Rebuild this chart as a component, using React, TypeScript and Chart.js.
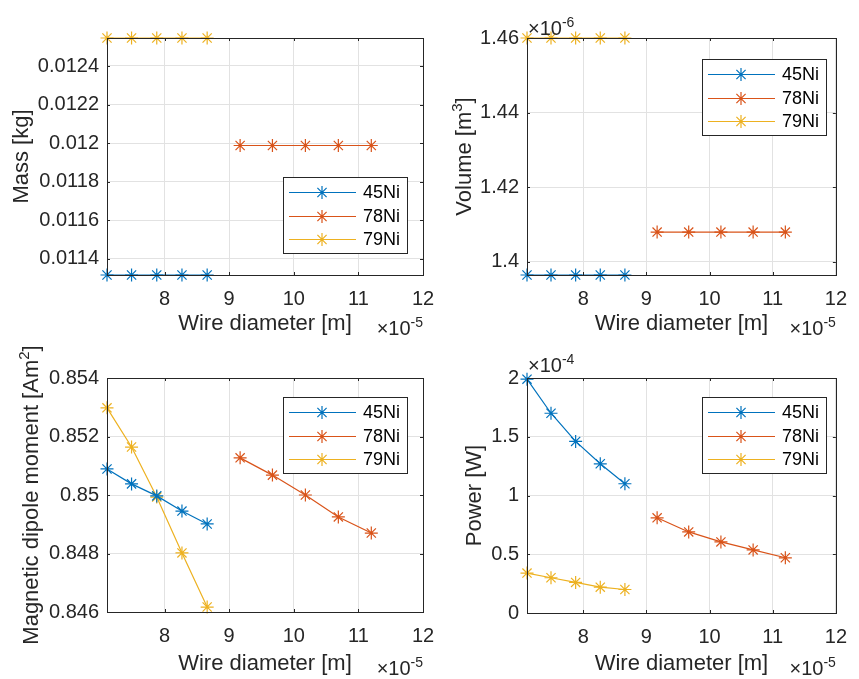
import { useEffect, useRef } from 'react';
import { Chart, registerables } from 'chart.js';

Chart.register(...registerables);

const FONT = "'Liberation Sans', Arial, Helvetica, sans-serif";
const AXIS_COLOR = '#262626';
const GRID_COLOR = '#e2e2e2';
const SERIES_COLORS = ['#0072BD', '#D95319', '#EDB120'];
const SERIES_NAMES = ['45Ni', '78Ni', '79Ni'];

// Wire diameter, in units of 1e-5 m
const diameter45Ni = [7.11, 7.49, 7.88, 8.27, 8.66];
const diameter78Ni = [9.17, 9.67, 10.18, 10.69, 11.2];
const diameter79Ni = [7.11, 7.49, 7.88, 8.27, 8.66];

// Mass [kg]
const mass45Ni = [0.011317, 0.011317, 0.011317, 0.011317, 0.011317];
const mass78Ni = [0.011988, 0.011988, 0.011988, 0.011988, 0.011988];
const mass79Ni = [0.012545, 0.012545, 0.012545, 0.012545, 0.012545];

// Volume, in units of 1e-6 m^3
const volume45Ni = [1.3965, 1.3965, 1.3965, 1.3965, 1.3965];
const volume78Ni = [1.408, 1.408, 1.408, 1.408, 1.408];
const volume79Ni = [1.46, 1.46, 1.46, 1.46, 1.46];

// Magnetic dipole moment [Am^2]
const moment45Ni = [0.85089, 0.85038, 0.84997, 0.84945, 0.84901];
const moment78Ni = [0.85127, 0.85068, 0.85, 0.84925, 0.8487];
const moment79Ni = [0.85298, 0.85164, 0.84993, 0.84802, 0.84617];

// Power, in units of 1e-4 W
const power45Ni = [1.99, 1.7, 1.46, 1.27, 1.1];
const power78Ni = [0.81, 0.69, 0.605, 0.537, 0.47];
const power79Ni = [0.34, 0.3, 0.26, 0.22, 0.2];

// Tick labels
const xTicks = [8, 9, 10, 11, 12];
const massTicks = [0.0114, 0.0116, 0.0118, 0.012, 0.0122, 0.0124];
const volumeTicks = [1.4, 1.42, 1.44, 1.46];
const momentTicks = [0.846, 0.848, 0.85, 0.852, 0.854];
const powerTicks = [0, 0.5, 1, 1.5, 2];

const X_MIN = 7.11;
const X_MAX = 12;

type Seg = { t: string; sup?: boolean };

interface PanelSpec {
  xs: number[][];
  ys: number[][];
  area: { left: number; right: number; top: number; bottom: number };
  yMin: number;
  yMax: number;
  yTicks: number[];
  yTitle: Seg[];
  yTitleBaseX: number;
  yExp?: string;
  yExpBase?: number;
  xExpBase: number;
  xTitleY: number;
  legend: { left: number; top: number };
}

const W = 859;
const H = 679;

function fmt(v: number): string {
  return String(parseFloat(v.toPrecision(10)));
}

function drawRich(
  ctx: CanvasRenderingContext2D,
  segs: Seg[],
  x: number,
  y: number,
  size: number,
  align: 'left' | 'right' | 'center',
  color: string
) {
  const supSize = Math.round(size * 0.7);
  ctx.fillStyle = color;
  ctx.textBaseline = 'alphabetic';
  ctx.textAlign = 'left';
  const widths = segs.map((s) => {
    ctx.font = `${s.sup ? supSize : size}px ${FONT}`;
    return ctx.measureText(s.t).width;
  });
  const total = widths.reduce((a, b) => a + b, 0);
  let cx = align === 'left' ? x : align === 'right' ? x - total : x - total / 2;
  segs.forEach((s, i) => {
    ctx.font = `${s.sup ? supSize : size}px ${FONT}`;
    ctx.fillText(s.t, cx, s.sup ? y - size * 0.42 : y);
    cx += widths[i];
  });
}

function drawStar(ctx: CanvasRenderingContext2D, x: number, y: number, r: number) {
  ctx.beginPath();
  ctx.moveTo(x - r, y);
  ctx.lineTo(x + r, y);
  ctx.moveTo(x, y - r);
  ctx.lineTo(x, y + r);
  const d = r * Math.SQRT1_2;
  ctx.moveTo(x - d, y - d);
  ctx.lineTo(x + d, y + d);
  ctx.moveTo(x - d, y + d);
  ctx.lineTo(x + d, y - d);
  ctx.stroke();
}

function makeDecor(spec: PanelSpec) {
  return {
    id: 'matlabDecor',
    afterDraw(chart: any) {
      const ctx: CanvasRenderingContext2D = chart.ctx;
      const { left, right, top, bottom } = chart.chartArea;
      ctx.save();
      // box
      ctx.strokeStyle = AXIS_COLOR;
      ctx.lineWidth = 1;
      ctx.strokeRect(Math.round(left) + 0.5, Math.round(top) + 0.5, Math.round(right - left), Math.round(bottom - top));
      // inward ticks
      const tl = 3;
      const xs = chart.scales.x;
      const ys = chart.scales.y;
      ctx.beginPath();
      xs.ticks.forEach((t: any) => {
        const px = Math.round(xs.getPixelForValue(t.value)) + 0.5;
        ctx.moveTo(px, bottom);
        ctx.lineTo(px, bottom - tl);
        ctx.moveTo(px, top);
        ctx.lineTo(px, top + tl);
      });
      ys.ticks.forEach((t: any) => {
        const py = Math.round(ys.getPixelForValue(t.value)) + 0.5;
        ctx.moveTo(left, py);
        ctx.lineTo(left + tl, py);
        ctx.moveTo(right, py);
        ctx.lineTo(right - tl, py);
      });
      ctx.stroke();

      // x exponent
      drawRich(ctx, [{ t: '\u00d710' }, { t: '-5', sup: true }], right, spec.xExpBase, 20, 'right', AXIS_COLOR);
      // y exponent
      if (spec.yExp) {
        drawRich(ctx, [{ t: '\u00d710' }, { t: spec.yExp, sup: true }], left + 1, spec.yExpBase as number, 20, 'left', AXIS_COLOR);
      }
      // y title
      ctx.save();
      ctx.translate(spec.yTitleBaseX, (top + bottom) / 2);
      ctx.rotate(-Math.PI / 2);
      drawRich(ctx, spec.yTitle, 0, 0, 22, 'center', AXIS_COLOR);
      ctx.restore();

      // legend
      const lx = spec.legend.left;
      const ly = spec.legend.top;
      const lw = 124;
      const lh = 76;
      ctx.fillStyle = '#ffffff';
      ctx.fillRect(lx, ly, lw, lh);
      ctx.strokeStyle = AXIS_COLOR;
      ctx.lineWidth = 1;
      ctx.strokeRect(lx + 0.5, ly + 0.5, lw, lh);
      const rowOffsets = [15, 39, 62];
      chart.data.datasets.forEach((ds: any, i: number) => {
        const ry = ly + rowOffsets[i] + 0.5;
        ctx.strokeStyle = ds.borderColor;
        ctx.lineWidth = 1.2;
        ctx.beginPath();
        ctx.moveTo(lx + 6, ry);
        ctx.lineTo(lx + 73, ry);
        ctx.stroke();
        drawStar(ctx, lx + 39, ry, 6.5);
        ctx.fillStyle = '#000000';
        ctx.font = `18px ${FONT}`;
        ctx.textAlign = 'left';
        ctx.textBaseline = 'middle';
        ctx.fillText(ds.label, lx + 80, ry + 1);
      });
      ctx.restore();
    },
  };
}

function Panel({ spec }: { spec: PanelSpec }) {
  const ref = useRef<HTMLCanvasElement | null>(null);
  useEffect(() => {
    const canvas = ref.current;
    if (!canvas) return;
    const { area } = spec;
    const yAxisWidth = 100;
    const xScaleBottom = spec.xTitleY + 11;
    const xAxisHeight = xScaleBottom - area.bottom;
    const datasets = spec.xs.map((xa, i) => ({
      label: SERIES_NAMES[i],
      data: xa.map((x, j) => ({ x, y: spec.ys[i][j] })),
      borderColor: SERIES_COLORS[i],
      backgroundColor: SERIES_COLORS[i],
      borderWidth: 1.2,
      pointStyle: 'star' as const,
      pointRadius: 6.5,
      pointBorderWidth: 1.2,
      pointBorderColor: SERIES_COLORS[i],
      pointBackgroundColor: SERIES_COLORS[i],
      tension: 0,
      clip: false as any,
    }));
    const chart = new Chart(canvas, {
      type: 'line',
      data: { datasets },
      options: {
        animation: false,
        responsive: false,
        devicePixelRatio: 1,
        events: [],
        layout: {
          padding: {
            left: area.left - yAxisWidth,
            right: W - area.right,
            top: area.top,
            bottom: H - xScaleBottom,
          },
        },
        plugins: {
          legend: { display: false },
          tooltip: { enabled: false },
        },
        scales: {
          x: {
            type: 'linear',
            min: X_MIN,
            max: X_MAX,
            afterBuildTicks: (s: any) => {
              s.ticks = xTicks.map((v) => ({ value: v }));
            },
            afterFit: (s: any) => {
              s.height = xAxisHeight;
            },
            grid: { color: GRID_COLOR, lineWidth: 1, drawTicks: false },
            border: { display: false },
            ticks: {
              color: AXIS_COLOR,
              font: { family: FONT, size: 20 },
              padding: 12,
              maxRotation: 0,
              autoSkip: false,
              callback: (v: any) => fmt(Number(v)),
            },
            title: {
              display: true,
              text: 'Wire diameter [m]',
              color: AXIS_COLOR,
              font: { family: FONT, size: 22, lineHeight: 1 },
              padding: { top: 0, bottom: 0 },
            },
          },
          y: {
            type: 'linear',
            min: spec.yMin,
            max: spec.yMax,
            afterBuildTicks: (s: any) => {
              s.ticks = spec.yTicks.map((v) => ({ value: v }));
            },
            afterFit: (s: any) => {
              s.width = yAxisWidth;
            },
            grid: { color: GRID_COLOR, lineWidth: 1, drawTicks: false },
            border: { display: false },
            ticks: {
              color: AXIS_COLOR,
              font: { family: FONT, size: 20 },
              padding: 8,
              autoSkip: false,
              callback: (v: any) => fmt(Number(v)),
            },
          },
        },
      },
      plugins: [makeDecor(spec)],
    });
    return () => chart.destroy();
  }, [spec]);
  return (
    <canvas
      ref={ref}
      width={W}
      height={H}
      style={{ position: 'absolute', left: 0, top: 0, width: W, height: H }}
    />
  );
}

const panels: PanelSpec[] = [
  {
    xs: [diameter45Ni, diameter78Ni, diameter79Ni],
    ys: [mass45Ni, mass78Ni, mass79Ni],
    area: { left: 107, right: 423, top: 38, bottom: 275 },
    yMin: 0.011317,
    yMax: 0.012545,
    yTicks: massTicks,
    yTitle: [{ t: 'Mass [kg]' }],
    yTitleBaseX: 28,
    xExpBase: 335,
    xTitleY: 324,
    legend: { left: 283, top: 177 },
  },
  {
    xs: [diameter45Ni, diameter78Ni, diameter79Ni],
    ys: [volume45Ni, volume78Ni, volume79Ni],
    area: { left: 527, right: 843, top: 38, bottom: 275 },
    yMin: 1.3965,
    yMax: 1.46,
    yTicks: volumeTicks,
    yTitle: [{ t: 'Volume [m' }, { t: '3', sup: true }, { t: ']' }],
    yTitleBaseX: 471,
    yExp: '-6',
    yExpBase: 35,
    xExpBase: 335,
    xTitleY: 324,
    legend: { left: 702, top: 59 },
  },
  {
    xs: [diameter45Ni, diameter78Ni, diameter79Ni],
    ys: [moment45Ni, moment78Ni, moment79Ni],
    area: { left: 107, right: 423, top: 378, bottom: 612 },
    yMin: 0.846,
    yMax: 0.854,
    yTicks: momentTicks,
    yTitle: [{ t: 'Magnetic dipole moment [Am' }, { t: '2', sup: true }, { t: ']' }],
    yTitleBaseX: 38,
    xExpBase: 675,
    xTitleY: 664,
    legend: { left: 283, top: 397 },
  },
  {
    xs: [diameter45Ni, diameter78Ni, diameter79Ni],
    ys: [power45Ni, power78Ni, power79Ni],
    area: { left: 527, right: 843, top: 378, bottom: 613 },
    yMin: 0,
    yMax: 2,
    yTicks: powerTicks,
    yTitle: [{ t: 'Power [W]' }],
    yTitleBaseX: 481,
    yExp: '-4',
    yExpBase: 372,
    xExpBase: 675,
    xTitleY: 664,
    legend: { left: 702, top: 397 },
  },
];

export default function App() {
  useEffect(() => {
    document.body.style.margin = '0';
    document.body.style.background = '#ffffff';
  }, []);
  return (
    <div style={{ position: 'fixed', left: 0, top: 0, width: W, height: H, background: '#ffffff' }}>
      {panels.map((p, i) => (
        <Panel key={i} spec={p} />
      ))}
    </div>
  );
}
